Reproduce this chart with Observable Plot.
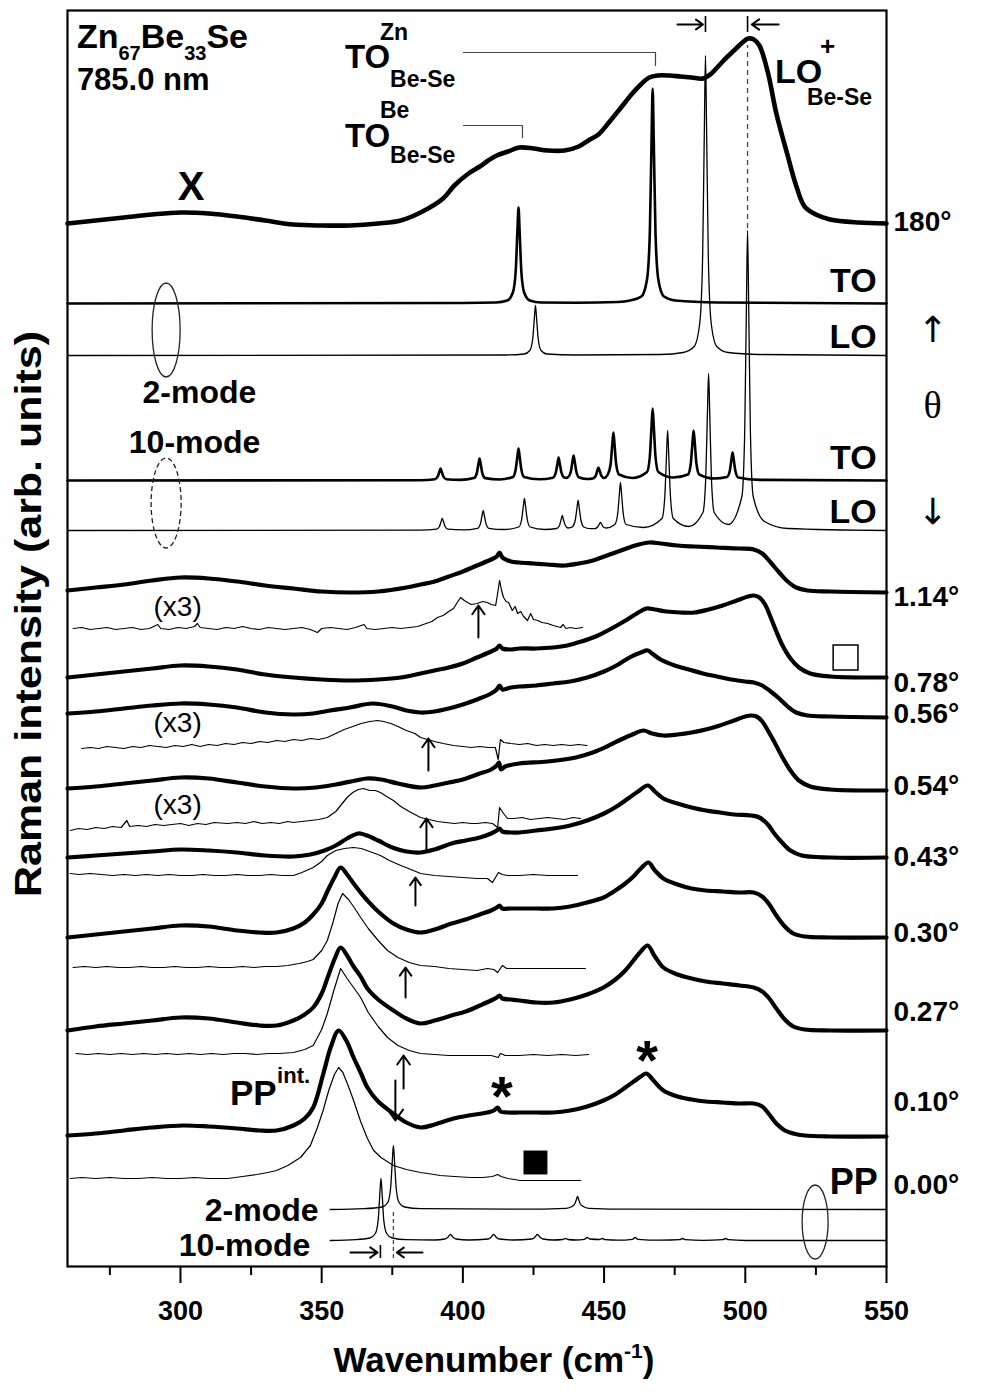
<!DOCTYPE html>
<html><head><meta charset="utf-8">
<script src="https://cdn.jsdelivr.net/npm/d3@7"></script>
<script src="https://cdn.jsdelivr.net/npm/@observablehq/plot@0.6"></script>
<style>html,body{margin:0;padding:0;background:#fff}svg{display:block}</style>
</head><body><div id="chart"></div>
<script>
// ---------------- DATA (wavenumber cm-1, intensity arb. units) ----------------
const majorTicks = [300, 350, 400, 450, 500, 550];
const minorTicks = [275, 325, 375, 425, 475, 525];

// experimental spectra (thick) : [wavenumber, intensity above own baseline]
const exp180 = [[260,0],[270,3],[280,6],[290,9],[300,11],[310,10],[320,7],[330,3],[340,-1],[350,-2],[360,-2],[370,0],[378,3],[385,11],[393,25],[397,38],[402,50],[406,57],[409,63],[412,68],[416,72],[420,76],[425,75],[430,73],[436,73],[441,77],[445,84],[448,89],[452,102],[456,116],[460,130],[463,139],[466,146],[469,148],[473,148],[477,147],[481,146],[485,145],[488,150],[492,162],[496,173],[499,181],[501,185],[503,184],[505,178],[508,151],[511,110],[515,68],[518,38],[521,17],[525,9],[530,4],[540,1],[550,0]];
const exp114 = [[260,2],[270,5],[280,8],[290,12],[300,15],[310,14],[320,11],[330,7],[340,4],[350,1],[360,0],[370,1],[380,5],[385,8],[390,11],[395,16],[400,21],[405,27],[410,33],[412,36],[413,40],[414,35],[417,31],[420,30],[425,29],[430,28],[436,27],[441,29],[446,32],[451,37],[456,42],[461,47],[466,50],[470,49],[476,47],[482,46],[490,45],[498,44],[503,43],[506,39],[509,30],[512,20],[515,11],[518,5],[522,2],[530,1],[550,0]];
const exp078 = [[260,0],[270,3],[280,6],[290,9],[300,12],[310,11],[320,8],[330,3],[340,0],[350,-2],[360,-3],[370,-2],[378,0],[385,4],[390,7],[395,10],[400,14],[405,20],[410,26],[412,29],[413,32],[414,29],[417,28],[420,29],[426,29],[432,30],[437,32],[442,36],[447,41],[452,48],[457,56],[461,63],[465,69],[468,68],[472,66],[477,65],[482,65],[487,68],[492,72],[497,77],[501,81],[503,82],[505,80],[507,73],[509,60],[511,46],[513,33],[516,19],[519,10],[523,4],[530,1],[550,0]];
const exp056 = [[260,4],[270,6],[280,9],[290,12],[300,14],[310,13],[320,10],[330,5],[340,3],[347,4],[353,7],[360,10],[368,14],[375,11],[380,7],[385,5],[390,6],[395,9],[400,13],[405,18],[410,24],[412,28],[413,32],[414,28],[417,30],[420,31],[426,32],[432,34],[438,36],[444,40],[450,46],[455,53],[459,60],[463,65],[465.5,67],[467,64],[470,58],[475,52],[480,48],[485,44],[490,41],[495,38],[500,36],[503,35],[506,32],[509,26],[512,19],[515,11],[518,5],[522,2],[530,1],[550,0]];
const exp054 = [[260,2],[270,4],[280,7],[290,10],[300,13],[310,12],[320,8],[330,4],[340,2],[348,3],[355,6],[362,10],[366,12],[371,11],[377,7],[385,3],[390,5],[395,8],[400,11],[405,16],[410,21],[412,25],[412.8,28],[413.5,21],[415,24],[420,27],[430,29],[440,33],[446,38],[451,44],[456,51],[460,56],[464,60],[467,57],[471,55],[476,56],[481,58],[486,61],[491,65],[496,70],[500,74],[502,75],[504,74],[506,69],[508,60],[510,50],[513,34],[516,20],[519,10],[523,4],[530,1],[550,0]];
const exp043 = [[260,0],[270,2],[280,4],[290,6],[300,8],[310,7],[320,5],[330,2],[340,1],[346,3],[351,7],[355,12],[359,19],[363,24],[366,22],[370,17],[375,10],[380,6],[385,5],[390,8],[396,14],[401,17],[406,20],[410,24],[412,27],[413,29],[414,26],[417,25],[420,25],[426,27],[432,29],[438,32],[444,37],[450,44],[455,52],[459,60],[462,66],[465.5,72],[468,66],[471,59],[476,54],[481,50],[486,47],[491,45],[496,43],[502,42],[505,40],[508,33],[510,25],[513,15],[516,7],[520,2],[530,0],[550,0]];
const exp030 = [[260,0],[270,3],[280,6],[290,9],[300,12],[310,11],[320,7],[328,5],[334,5],[340,9],[344,15],[347,23],[350,34],[352,46],[354.5,60],[356.7,70],[359,63],[361.3,54],[363.8,45],[366.2,37],[370,26],[375.4,14],[380,8],[385,5],[390,8],[396,14],[401,18],[406,23],[410,27],[412,30],[413,32],[414,29],[417,29],[420,29],[426,29],[432,29],[438,31],[444,35],[449.8,40],[454,47],[457.5,54],[460.4,61],[463,69],[465.7,75],[468,67],[471,59],[476,53],[481,49],[486,47],[492,46],[498,45],[503,45],[506,41],[508.5,33],[511,22],[514,11],[517,4],[521,1],[530,0],[550,0]];
const exp027 = [[260,0],[270,4],[280,7],[290,10],[300,13],[310,12],[320,8],[328,5],[334,5],[340,10],[344,16],[347,23],[350,37],[352.5,56],[354.8,73],[356.7,83],[359,75],[361.3,64],[363.8,54],[366.2,42],[370,31],[375.4,20],[380,12],[385,7],[390,10],[396,15],[401,19],[406,25],[410,30],[412,33],[413,35],[414,32],[417,31],[420,30],[426,28],[432,28],[438,31],[444,36],[449.8,43],[454,51],[457.5,60],[460.4,70],[463,79],[465.4,85],[468,74],[471,63],[476,56],[481,52],[486,49],[492,47],[498,45],[503,43],[506,39],[508.5,32],[511,22],[514,11],[517,4],[521,1],[530,0],[550,0]];
const exp010 = [[260,1],[270,3],[280,6],[290,9],[301,11],[310,10],[320,8],[328,6],[334,6],[340,11],[344,18],[347,29],[350.6,63],[353.3,90],[356,106],[358.7,96],[361.3,79],[363.8,64],[366.2,49],[370,35],[375.4,23],[380,14],[385,9],[390,12],[396.7,18],[402,21],[408.7,24],[411,26],[412.3,29],[413.3,25],[416,24],[420,24],[426,24],[432,24],[438,26],[444,30],[449.8,36],[454,42],[457.5,49],[461,56],[463,60],[465,63],[467.5,56],[471,46],[476,40],[481,37],[486,35],[492,34],[498,33],[503,33],[506,30],[508.5,22],[511,13],[514,6],[517,3],[521,1],[530,0],[550,0]];
const expSpectra = [exp180, exp114, exp078, exp056, exp054, exp043, exp030, exp027, exp010];
const expOffsets = [1043, 674, 589, 549, 476, 409, 329, 236, 130];

// thin traces (x3 magnified / low-frequency detail)
const thin114 = [[262,0],[265,1],[268,-1],[271,0],[274,1],[277,-1],[280,0],[283,1],[286,-1],[289,0],[292,4],[293,0],[296,-1],[299,1],[302,0],[305,2],[306,5],[307,1],[310,0],[313,-1],[316,1],[319,0],[322,2],[325,0],[328,-1],[331,1],[334,0],[337,-1],[340,0],[343,1],[346,-1],[348.5,-4],[350,0],[353,1],[356,0],[359,-1],[362,1],[365,4],[366,0],[369,-1],[372,0],[375,1],[378,0],[381,1],[384,2],[387,5],[389,7],[391,11],[393,13],[395,17],[396.7,20],[398,26],[399.2,31],[400.5,28],[401.6,26],[403,24],[405,25],[407,27],[408.7,26],[410,24],[411.6,23],[412.3,35],[413,48],[413.7,38],[414.4,31],[415.3,27],[416.2,26],[417.5,18],[418.5,22],[419.4,15],[420.5,17],[421.5,12],[422.9,8],[424,15],[425,9],[426.5,8],[428,6],[430,5],[432,3],[434.6,1],[435.5,4],[436.5,0],[438,1],[440,0],[442.4,1]];
const thin056 = [[265,-3],[268,-2],[271,-3],[274,-1],[277,-2],[280,-3],[283,-1],[286,-2],[289,0],[292,-1],[295,-2],[298,0],[301,-1],[304,1],[307,-1],[310,1],[313,0],[316,2],[319,1],[322,3],[325,2],[328,4],[331,3],[334,5],[337,4],[340,6],[343,5],[346,7],[349,6],[352,8],[355,12],[358,16],[361,19],[364,22],[367,24],[369.8,25],[372,24],[374.5,22],[377,19],[380,15],[383,12],[385,8],[387.5,6],[390,4],[393,2],[396.7,0],[400,-1],[403,-2],[406,-1],[409,-2],[411.5,-2],[412.5,-14],[413.3,6],[414.5,3],[417,2],[420,1],[423,2],[426,0],[429,1],[432,0],[435,1],[438,0],[441,1],[444,0]];
const thin054 = [[261,-7],[264,-5],[267,-6],[270,-4],[273,-5],[276,-3],[279,-4],[281,3],[282,-3],[285,-2],[288,-3],[291,-1],[294,-2],[297,-1],[300,0],[303,-2],[306,0],[309,-1],[312,1],[316.7,0],[320,1],[323,0],[326,2],[329,0],[332,1],[335,0],[338,2],[340,1],[343,2],[346,3],[349,4],[352,6],[355,12],[357,19],[359,26],[361,31],[363,34],[364.8,35],[367,33],[369,33],[370.8,31],[373,27],[375.4,23],[378,17],[381,12],[383,9],[385,6],[388,4],[391,2],[394,1],[397,0],[400,1],[403,0],[405,0],[408,1],[410.5,0],[412.3,-4],[413,16],[414.4,10],[415.8,5],[418,5],[421,6],[424,4],[427,5],[430,6],[433,5],[436,4],[439,6],[441.7,5]];
const thin043 = [[261,2],[264,1],[268,2],[272,1],[276,0],[280,1],[284,0],[288,1],[292,0],[296,1],[300,0],[304,0],[308,1],[312,0],[316,0],[320,1],[324,0],[328,0],[332,1],[336,0],[340,0],[343,3],[347,8],[350,14],[352,20],[355,25],[358,27],[361.3,28],[364,27],[367,24],[370.8,20],[374,15],[378,10],[382.5,5],[385,2],[390,0],[395,-1],[400,-2],[405,-3],[408.7,-3],[410.5,-7],[412.6,3],[414,1],[415.8,0],[420,0],[425,1],[430,0],[435,0],[440.6,0]];
const thin030 = [[262,0],[266,1],[270,0],[274,1],[278,0],[282,0],[286,1],[290,0],[294,0],[298,1],[302,0],[306,0],[310,1],[314,0],[318,0],[322,1],[326,0],[330,1],[334,1],[338,2],[342,4],[345,6],[347,8],[350,17],[352,27],[354,45],[355.8,64],[357.4,74],[359.5,68],[361.5,60],[363.8,50],[366.5,39],[370,27],[373.3,17],[377,10],[381,5],[385,2],[390,1],[395,-1],[400,-2],[405,-3],[408.7,-1],[411,-2],[412.3,-5],[414,2],[415.5,-1],[420,-1],[425,-1],[430,-1],[435,-1],[440,-1],[443.4,-1]];
const thin027 = [[263,1],[267,0],[271,1],[275,0],[279,1],[283,0],[287,1],[291,0],[295,1],[299,0],[303,1],[307,0],[311,1],[315,0],[319,1],[323,1],[327,0],[331,1],[335,1],[340,2],[344,5],[347,9],[350,25],[352,41],[354.3,64],[356.7,86],[359,76],[361.3,67],[363.8,57],[366.5,42],[370,28],[373.3,17],[377,9],[381,4],[385,1],[390,0],[395,-1],[400,-1],[405,-1],[410,-1],[412.5,-3],[413.3,1],[415,-1],[420,-1],[425,0],[430,-1],[435,0],[440,-1],[444.5,0]];
const thin010 = [[261,0],[265,1],[270,0],[275,1],[280,0],[285,0],[290,1],[295,0],[300,0],[305,1],[310,0],[316.7,0],[322,2],[327,4],[331,6],[334,8],[338,13],[342.5,21],[346,33],[348.5,51],[350.5,68],[352.5,88],[354.5,104],[356,111],[357.5,106],[359.5,92],[361.3,78],[363.8,57],[366.2,40],[368.4,28],[371,21],[375.4,13],[380,9],[385,6],[387.5,5],[392,3],[397,2],[402.7,1],[407,1],[410.5,2],[412.3,4],[413.5,2],[416,0],[420.4,-2],[425,-2],[430,-2],[435,-2],[441.7,-2]];
const thinSpectra = [thin114, thin056, thin054, thin043, thin030, thin027, thin010];
const thinOffsets = [638, 521, 443, 391, 299, 212, 88];

// calculated spectra (2-mode / 10-mode)
const to2 = [[260,0],[400,0.5],[411.7,1],[415.7,3],[417.7,11],[418.7,32],[419.3,72],[419.7,96],[420.1,72],[420.7,32],[421.7,11],[423.7,3],[427.7,1],[440,0.8],[455,1.5],[459.2,3],[463.2,7],[465.2,24],[466.2,71],[466.8,161],[467.2,215],[467.6,161],[468.2,71],[469.2,24],[471.2,7],[475.2,3],[490,1],[550,0]];
const lo2 = [[260,0],[415,0.5],[421.7,1.5],[423.7,5],[424.7,16],[425.3,37],[425.7,50],[426.1,37],[426.7,16],[427.7,5],[429.7,1.5],[440,0.5],[470,1],[478,3],[481.9,9],[483.9,33],[484.9,100],[485.5,225],[485.9,300],[486.3,225],[486.9,100],[487.9,33],[489.9,9],[493.9,3],[505,1],[550,0]];
const to10 = [[260,0],[385,0.3],[390.1,1.3],[391.1,4],[391.7,9],[392.1,12],[392.5,9],[393.1,4],[394.1,1.3],[399,0.6],[403.9,2.4],[404.9,7],[405.5,16.5],[405.9,22],[406.3,16.5],[406.9,7],[407.9,2.4],[413,1],[417.7,3.5],[418.7,11],[419.3,24],[419.7,32],[420.1,24],[420.7,11],[421.7,3.5],[427,1.2],[431.9,2.8],[432.9,8],[433.5,17],[433.9,23],[434.3,17],[434.9,8],[435.9,3],[436.6,2.6],[437.2,3.2],[438.2,8.5],[438.8,19],[439.2,25],[439.6,19],[440.2,8.5],[441.2,3],[444,1.5],[446,2],[447,4.5],[447.6,10],[448,13],[448.4,10],[449,5],[450,2.5],[451.3,6],[452.3,16],[452.9,36],[453.3,48],[453.7,36],[454.3,16],[455.3,6],[460,2.5],[465.2,8.5],[466.2,24],[466.8,54],[467.2,72],[467.6,54],[468.2,24],[469.2,8.5],[474.5,3],[479.7,6],[480.7,17],[481.3,38],[481.7,50],[482.1,38],[482.7,17],[483.7,6],[489,2],[493.5,3.5],[494.5,9.5],[495.1,21],[495.5,28],[495.9,21],[496.5,9.5],[497.5,3],[505,0.6],[550,0]];
const lo10 = [[260,0],[385,0.3],[390.7,1.3],[391.7,4],[392.3,9],[392.7,12],[393.1,9],[393.7,4],[394.7,1.3],[400,0.6],[405.2,2.2],[406.2,6.6],[406.8,15],[407.2,20],[407.6,15],[408.2,6.6],[409.2,2.2],[414.5,1],[419.8,3.5],[420.8,11],[421.4,24],[421.8,32],[422.2,24],[422.8,11],[423.8,3.5],[429,1],[433.2,2],[434.2,5],[434.8,11],[435.2,15],[435.6,11],[436.2,5.5],[437.2,2.5],[438,2.8],[438.8,3.8],[439.8,10.5],[440.4,22.5],[440.8,30],[441.2,22.5],[441.8,10.5],[442.8,3.5],[445,1.8],[446.7,1.8],[447.7,3.5],[448.3,6.3],[448.7,8],[449.1,6.5],[449.7,3.5],[450.7,2.5],[453.8,6],[454.8,16.5],[455.4,36],[455.8,48],[456.2,36],[456.8,16.5],[457.8,6],[464,3],[470.5,12],[471.5,34],[472.1,75],[472.5,100],[472.9,75],[473.5,34],[474.5,12],[480,4],[485,18],[486,53],[486.6,118],[487,157],[487.4,118],[488,53],[489,18],[494,6],[498.8,34],[499.8,100],[500.4,225],[500.8,300],[501.2,225],[501.8,100],[502.8,34],[506.8,9],[515,2],[550,0]];
const pp2 = [[353,0],[365,0.8],[371.4,2.5],[373.4,7],[374.4,21],[375,48],[375.4,64],[375.8,48],[376.4,21],[377.4,7],[379.4,2.5],[385,0.8],[420,0.3],[436.6,1.2],[438.6,3],[439.6,5.5],[440.2,10],[440.6,13],[441,10],[441.6,5.5],[442.6,3],[444.6,1.2],[460,0.3],[550,0]];
const pp10 = [[353,0],[362,0.8],[367,2.5],[369,7],[370,20],[370.6,47],[371,62],[371.4,47],[372,20],[373,7],[375,2.5],[380,0.8],[390,0.5],[393.6,1.5],[394.6,3],[395.6,6],[396.6,3],[397.6,1.5],[402,0.5],[408.9,1.5],[409.9,3],[410.9,6],[411.9,3],[412.9,1.5],[418,0.5],[424.4,1.5],[425.4,3],[426.4,6],[427.4,3],[428.4,1.5],[432,0.5],[435.3,1],[436.3,2],[437.3,1],[440,0.5],[443,1.2],[444,3],[445,1.5],[448.4,1],[449.4,2],[450.4,0.8],[455,0.3],[460,1.2],[461,3],[462,1.2],[470,0.3],[476.8,0.8],[477.8,2],[478.8,0.8],[485,0.2],[492,0.8],[493,2],[494,0.8],[500,0],[550,0]];
const calcOffsets = {to2: 963, lo2: 911, to10: 786, lo10: 736, pp2: 57, pp10: 26};

// right-hand labels
const angleLabels = ["180°", "1.14°", "0.78°", "0.56°", "0.54°", "0.43°", "0.30°", "0.27°", "0.10°", "0.00°"];
const angleLabelLevels = [1044, 669, 583, 552, 480, 409, 333, 254, 164, 81];

// ---------------- CHART ----------------
const FONT = '"Liberation Sans", Arial, Helvetica, sans-serif';
const W = 984, H = 1394;
const marks = [];
const lineOpts = (off, w, curve) => ({x: d => d[0], y: d => off + d[1], stroke: "#000", strokeWidth: w, curve});

marks.push(Plot.line(to2, lineOpts(calcOffsets.to2, 2.6, "monotone-x")));
marks.push(Plot.line(lo2, lineOpts(calcOffsets.lo2, 1.3, "monotone-x")));
marks.push(Plot.line(to10, lineOpts(calcOffsets.to10, 2.6, "monotone-x")));
marks.push(Plot.line(lo10, lineOpts(calcOffsets.lo10, 1.3, "monotone-x")));
marks.push(Plot.line(pp2, lineOpts(calcOffsets.pp2, 1.3, "monotone-x")));
marks.push(Plot.line(pp10, lineOpts(calcOffsets.pp10, 1.3, "monotone-x")));
thinSpectra.forEach((s, i) => marks.push(Plot.line(s, lineOpts(thinOffsets[i], 1.2, "linear"))));
expSpectra.forEach((s, i) => marks.push(Plot.line(s, lineOpts(expOffsets[i], i === 0 ? 4.6 : 4.2, "catmull-rom"))));

// annotation guides
marks.push(Plot.line([[400.2,1214],[468.2,1214],[468.2,1201]], {x: d => d[0], y: d => d[1], stroke: "#444", strokeWidth: 1.2}));
marks.push(Plot.line([[400.2,1141],[421.1,1141],[421.1,1129]], {x: d => d[0], y: d => d[1], stroke: "#444", strokeWidth: 1.2}));
marks.push(Plot.ruleX([500.8], {y1: 1038, y2: 1221, stroke: "#444", strokeWidth: 1.3, strokeDasharray: "5,4"}));
marks.push(Plot.ruleX([375.4], {y1: 8, y2: 57, stroke: "#444", strokeWidth: 1.3, strokeDasharray: "4,3"}));
marks.push(Plot.ruleX([485.9, 500.8], {y1: 1234, y2: 1250, stroke: "#000", strokeWidth: 1.6}));
marks.push(Plot.ruleX([370.8], {y1: 8, y2: 21, stroke: "#000", strokeWidth: 1.6}));
const hArrows = [[476, 485.0, 1242], [511.8, 502.3, 1242], [360.2, 369.8, 14], [385.7, 376.6, 14]];
marks.push(Plot.arrow(hArrows, {x1: d => d[0], x2: d => d[1], y1: d => d[2], y2: d => d[2], stroke: "#000", strokeWidth: 2, headLength: 8, headAngle: 70}));
const vArrows = [[405.5, 629, 661], [387.8, 496, 528], [387.1, 416, 448], [383.2, 361, 389], [379.7, 269, 299], [379, 178, 211], [376.1, 186, 146]];
marks.push(Plot.arrow(vArrows, {x1: d => d[0], x2: d => d[0], y1: d => d[1], y2: d => d[2], stroke: "#000", strokeWidth: 2, headLength: 10, headAngle: 70}));
marks.push(Plot.dot([[535.5, 609]], {x: d => d[0], y: d => d[1], symbol: "square", r: 14, stroke: "#000", strokeWidth: 1.5, fill: "white"}));
marks.push(Plot.dot([[425.7, 104]], {x: d => d[0], y: d => d[1], symbol: "square", r: 13.5, fill: "#000", stroke: "none"}));

// texts
marks.push(Plot.text(angleLabels, {x: 550, y: (d, i) => angleLabelLevels[i], text: d => d, dx: 7, textAnchor: "start", fontSize: 28, fontWeight: "bold", fill: "#000"}));
marks.push(Plot.text(["↑", "↓"], {x: 550, y: (d, i) => [936, 754][i], text: d => d, dx: 46, fontSize: 36, fontFamily: '"DejaVu Sans", sans-serif', fill: "#000"}));
marks.push(Plot.text(["θ"], {x: 550, y: 861, text: d => d, dx: 46, fontSize: 38, fontFamily: '"Liberation Serif", "DejaVu Serif", serif', fill: "#000"}));
marks.push(Plot.text(["TO", "LO", "TO", "LO"], {x: 546.5, y: (d, i) => [985, 929, 808, 754][i], text: d => d, textAnchor: "end", fontSize: 34, fontWeight: "bold", fill: "#000"}));
marks.push(Plot.text(["PP"], {x: 546.9, y: 84, text: d => d, textAnchor: "end", fontSize: 36, fontWeight: "bold", fill: "#000"}));
marks.push(Plot.text(["2-mode", "10-mode"], {x: (d, i) => [306.7, 305][i], y: (d, i) => [874, 824][i], text: d => d, fontSize: 32, fontWeight: "bold", fill: "#000"}));
marks.push(Plot.text(["2-mode", "10-mode"], {x: (d, i) => [348.9, 346][i], y: (d, i) => [56, 21][i], text: d => d, textAnchor: "end", fontSize: 32, fontWeight: "bold", fill: "#000"}));
marks.push(Plot.text(["(x3)", "(x3)", "(x3)"], {x: 299, y: (d, i) => [659, 543, 461][i], text: d => d, fontSize: 28, fill: "#000"}));

marks.push(Plot.frame({stroke: "#000", strokeWidth: 2.2}));
marks.push(Plot.axisX({ticks: majorTicks, tickSize: 17, tickPadding: 17, fontSize: 27, fontWeight: "bold", tickFormat: d => String(d), label: null, strokeWidth: 2, fill: "#000"}));
marks.push(Plot.axisX({ticks: minorTicks, tickSize: 9, tickFormat: () => "", label: null, strokeWidth: 2}));

const plot = Plot.plot({
  width: W, height: H,
  marginLeft: 67, marginRight: 98, marginTop: 10, marginBottom: 128,
  x: {domain: [260, 550]},
  y: {domain: [0, 1256], axis: null},
  style: {fontFamily: FONT, background: "#fff", color: "#000", overflow: "visible"},
  marks
});
document.getElementById("chart").append(plot);

// rich-text annotations placed through the plot's scales
const svg = d3.select(plot);
const X = plot.scale("x"), Y = plot.scale("y");
function richAt(px, py, parts, o = {}) {
  const t = svg.append("text").attr("x", px).attr("y", py)
    .attr("font-family", o.family || FONT).attr("font-weight", o.weight || "bold")
    .attr("font-size", o.size || 30).attr("text-anchor", o.anchor || "start").attr("fill", "#000");
  if (o.transform) t.attr("transform", o.transform);
  if (o.textLength) t.attr("textLength", o.textLength).attr("lengthAdjust", "spacingAndGlyphs");
  let cur = 0;
  for (const p of parts) {
    const [s, size, shift] = Array.isArray(p) ? p : [p];
    const ts = t.append("tspan").text(s);
    const sh = shift || 0;
    if (sh !== cur) ts.attr("dy", sh - cur);
    cur = sh;
    if (size) ts.attr("font-size", size);
  }
  return t;
}
const rich = (wn, v, parts, o) => richAt(X.apply(wn), Y.apply(v), parts, o);

rich(263.5, 1218, ["Zn", ["67", 20, 12], "Be", ["33", 20, 12], "Se"], {size: 34});
rich(263.5, 1176, ["785.0 nm"], {size: 31});
rich(303.9, 1066, ["X"], {size: 40, anchor: "middle"});
rich(358.4, 1198, ["TO"], {size: 33});
rich(370.8, 1226, ["Zn"], {size: 23});
rich(374.4, 1179, ["Be-Se"], {size: 23});
rich(358.4, 1119, ["TO"], {size: 33});
rich(370.8, 1148, ["Be"], {size: 23});
rich(374.4, 1103, ["Be-Se"], {size: 23});
rich(510.7, 1183, ["LO"], {size: 34});
rich(526.6, 1211, ["+"], {size: 26});
rich(522, 1161, ["Be-Se"], {size: 23});
rich(317.7, 161, ["PP"], {size: 35});
rich(334.4, 183, ["int."], {size: 22});
rich(465.4, 187, ["*"], {size: 56, anchor: "middle"});
rich(414, 151, ["*"], {size: 56, anchor: "middle"});

// ellipses
function ellipse(wn, v, rx, ry, dash) {
  svg.append("ellipse").attr("cx", X.apply(wn)).attr("cy", Y.apply(v)).attr("rx", rx).attr("ry", ry)
    .attr("fill", "none").attr("stroke", "#222").attr("stroke-width", 1.3).attr("stroke-dasharray", dash ? "5,3" : null);
}
ellipse(295.1, 936, 14, 47, false);
ellipse(295.1, 763, 15, 45, true);
ellipse(524.9, 44, 13, 37, false);

// axis titles
richAt(494, 1372, ["Wavenumber (cm", ["-1", 21, -14], [")", null, 0]], {size: 35, anchor: "middle"});
richAt(0, 0, ["Raman intensity (arb. units)"], {size: 36, anchor: "middle", transform: "translate(41,614) rotate(-90)", textLength: 566});
</script></body></html>
